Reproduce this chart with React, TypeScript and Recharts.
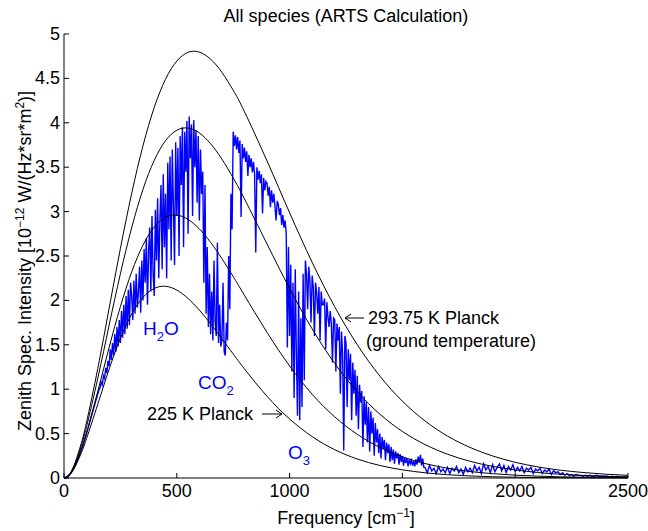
import React from 'react';
import { LineChart, Line, XAxis, YAxis } from 'recharts';

const FONT = '"Liberation Sans", Arial, Helvetica, sans-serif';
const BLUE = '#0000ff';

// x ticks / y ticks
const X_TICKS = [0, 500, 1000, 1500, 2000, 2500];
const Y_TICKS = [0, 0.5, 1, 1.5, 2, 2.5, 3, 3.5, 4, 4.5, 5];

// Planck curves, 1e-12 W/(Hz sr m2)
const planckFreq = [0, 25, 50, 75, 100, 150, 200, 250, 300, 350, 400, 450, 500, 550, 600, 650, 700, 750, 800,
  900, 1000, 1100, 1200, 1300, 1400, 1500, 1600, 1700, 1800, 1900, 2000, 2100, 2200, 2300, 2400, 2500];
const planck294 = [0, 0.048, 0.179, 0.378, 0.629, 1.236, 1.911, 2.584, 3.205, 3.741, 4.173, 4.491, 4.695, 4.794, 4.796,
  4.716, 4.568, 4.367, 4.125, 3.57, 2.987, 2.429, 1.928, 1.501, 1.148, 0.865, 0.643, 0.472, 0.344, 0.248, 0.177,
  0.125, 0.088, 0.062, 0.043, 0.03];
const planck275 = [0, 0.044, 0.166, 0.349, 0.578, 1.125, 1.72, 2.3, 2.819, 3.25, 3.577, 3.798, 3.916, 3.941, 3.886,
  3.764, 3.591, 3.379, 3.143, 2.635, 2.134, 1.679, 1.29, 0.972, 0.719, 0.524, 0.377, 0.268, 0.188, 0.131, 0.091,
  0.062, 0.042, 0.029, 0.019, 0.013];
const planck250 = [0, 0.04, 0.149, 0.311, 0.511, 0.978, 1.47, 1.93, 2.321, 2.622, 2.827, 2.937, 2.961, 2.912, 2.805,
  2.653, 2.47, 2.268, 2.057, 1.64, 1.262, 0.943, 0.688, 0.492, 0.345, 0.239, 0.163, 0.11, 0.073, 0.049, 0.032,
  0.021, 0.013, 0.009, 0.006, 0.004];
const planck225 = [0, 0.036, 0.132, 0.272, 0.444, 0.833, 1.226, 1.573, 1.846, 2.034, 2.135, 2.159, 2.116, 2.022, 1.891,
  1.736, 1.568, 1.397, 1.228, 0.92, 0.665, 0.466, 0.319, 0.214, 0.141, 0.092, 0.059, 0.037, 0.023, 0.014, 0.009,
  0.005, 0.003, 0.002, 0.001, 0.001];

// ARTS spectrum, three pieces with different sampling
const specLowStart = 0;   // step 10
const specLow = [0, 0.003, 0.02, 0.05, 0.09, 0.14, 0.2, 0.27, 0.34, 0.42,
  0.5, 0.59, 0.68, 0.77, 0.86];
const specMidStart = 150; // step 5
const specMid = [
  0.95, 0.99, 1.02, 1.08, 1.05, 1.15, 1.12, 1.24, 1.18, 1.32,
  1.26, 1.45, 1.33, 1.52, 1.38, 1.62, 1.42, 1.7, 1.48, 1.78,
  1.52, 1.88, 1.58, 1.95, 1.62, 2.05, 1.68, 2.12, 1.72, 2.2,
  2.05, 1.78, 2.22, 1.85, 2.3, 1.92, 2.1, 2.38, 1.86, 2.45,
  2.0, 2.58, 2.2, 2.7, 1.95, 2.55, 2.82, 2.1, 2.95, 2.3,
  2.05, 3.02, 2.45, 3.15, 2.25, 2.9, 3.3, 2.35, 3.42, 2.6,
  3.2, 2.25, 3.55, 2.8, 3.62, 2.45, 3.7, 3.05, 2.4, 3.78,
  2.95, 3.72, 2.5, 3.85, 3.3, 3.95, 2.6, 3.9, 3.45, 4.02,
  2.75, 4.07, 3.6, 3.98, 2.95, 4.03, 3.5, 3.92, 3.1, 3.85,
  2.9, 3.7, 3.2, 3.45, 2.2, 3.3, 1.85, 2.6, 1.7, 2.3,
  1.62, 2.1, 1.55, 2.45, 1.75, 1.6, 2.65, 1.52, 1.95, 1.48,
  1.55, 2.2, 1.42, 1.38, 1.75, 1.55, 2.5, 1.9, 3.2, 2.8,
  3.9, 3.74, 3.86, 3.7, 3.84, 3.66, 3.8, 2.94, 3.76, 3.6,
  3.72, 3.56, 3.68, 3.4, 3.64, 3.5, 3.6, 3.44, 3.56, 3.42,
  2.54, 3.5, 3.36, 3.46, 3.32, 3.42, 2.98, 3.38, 3.24, 3.34,
  3.32, 3.18, 3.28, 3.05, 3.24, 3.1, 3.2, 3.06, 2.9, 3.12,
  3.08, 2.96, 3.04, 2.85, 2.96, 2.82, 2.9, 2.75, 1.47, 2.6,
  1.6, 2.4, 1.2, 2.2, 0.9, 2.35, 1.4, 0.7, 2.1, 0.65,
  1.8, 0.8, 2.3, 1.1, 2.45, 2.3, 1.9, 2.38, 2.22, 1.75,
  2.28, 2.15, 1.6, 2.2, 2.08, 1.85, 2.15, 1.55, 2.1, 1.95,
  1.95, 2.02, 1.45, 1.98, 1.82, 1.7, 1.88, 1.74, 1.3, 1.8,
  1.78, 1.2, 1.74, 1.55, 1.7, 0.95, 1.65, 1.4, 0.31, 1.6,
  1.52, 0.8, 1.45, 1.1, 1.4, 0.65, 1.3, 0.95, 1.22, 0.7,
  1.15, 0.55, 1.05, 0.85, 0.98, 0.35, 0.92, 0.6, 0.86, 0.4,
  0.8, 0.3, 0.75, 0.5, 0.68, 0.25, 0.62, 0.4, 0.55, 0.28,
  0.5, 0.22, 0.46, 0.33, 0.43, 0.2, 0.4, 0.28, 0.38, 0.18,
  0.35, 0.2, 0.32, 0.16, 0.3, 0.22, 0.28, 0.15, 0.27, 0.18,
  0.25, 0.14, 0.23, 0.17, 0.22, 0.13, 0.21, 0.16, 0.2, 0.14,
  0.19, 0.13, 0.21, 0.15, 0.24, 0.18, 0.26, 0.14, 0.22, 0.12];
const specHighStart = 1600; // step 10
const specHigh = [
  0.12, 0.06, 0.14, 0.08, 0.11, 0.05, 0.13, 0.07, 0.1, 0.06,
  0.12, 0.05, 0.11, 0.08, 0.13, 0.06, 0.1, 0.04, 0.12, 0.07,
  0.11, 0.06, 0.14, 0.08, 0.12, 0.05, 0.16, 0.09, 0.13, 0.06,
  0.15, 0.07, 0.12, 0.16, 0.08, 0.14, 0.06, 0.13, 0.09, 0.15,
  0.07, 0.12, 0.08, 0.13, 0.06, 0.11, 0.09, 0.12, 0.05, 0.1,
  0.08, 0.11, 0.05, 0.09, 0.07, 0.1, 0.04, 0.08, 0.06, 0.07,
  0.04, 0.06, 0.03, 0.05, 0.03, 0.04, 0.02, 0.04, 0.03, 0.03,
  0.02, 0.03, 0.02, 0.03, 0.02, 0.02, 0.03, 0.02, 0.02, 0.02,
  0.02, 0.02, 0.01, 0.02, 0.01, 0.02, 0.01, 0.01, 0.01, 0.01, 0.01];

const planckData = planckFreq.map((f, i) => ({
  f, t294: planck294[i], t275: planck275[i], t250: planck250[i], t225: planck225[i],
}));

const spectrumData = [
  ...specLow.map((v, i) => ({ f: specLowStart + i * 10, v })),
  ...specMid.map((v, i) => ({ f: specMidStart + i * 5, v })),
  ...specHigh.map((v, i) => ({ f: specHighStart + i * 10, v })),
];

const TICK_LEN = 5;
const fontSize = 18;

const BottomTick = ({ x, y, payload }: any) => (
  <g>
    <line x1={x} y1={y} x2={x} y2={y - TICK_LEN} stroke="#000" />
    <text x={x} y={y + 19} textAnchor="middle" fontFamily={FONT} fontSize={fontSize} fill="#000">
      {payload.value}
    </text>
  </g>
);

const TopTick = ({ x, y }: any) => (
  <line x1={x} y1={y} x2={x} y2={y + TICK_LEN} stroke="#000" />
);

const LeftTick = ({ x, y, payload }: any) => (
  <g>
    <line x1={x} y1={y} x2={x + TICK_LEN} y2={y} stroke="#000" />
    <text x={x - 4} y={y + 6} textAnchor="end" fontFamily={FONT} fontSize={fontSize} fill="#000">
      {payload.value}
    </text>
  </g>
);

const RightTick = ({ x, y }: any) => (
  <line x1={x} y1={y} x2={x - TICK_LEN} y2={y} stroke="#000" />
);

// thin open arrow, pointing right when dir = 1
const Arrow = ({ x1, x2, y }: { x1: number; x2: number; y: number }) => {
  const d = x2 > x1 ? 1 : -1;
  return (
    <g stroke="#000" strokeWidth={1} fill="none">
      <line x1={x1} y1={y} x2={x2} y2={y} />
      <path d={`M${x2 - d * 6},${y - 4} L${x2},${y} L${x2 - d * 6},${y + 4}`} />
    </g>
  );
};

export default function App() {
  return (
    <div style={{ position: 'absolute', left: 0, top: 0, width: 648, height: 531, background: '#fff' }}>
      <LineChart width={648} height={531} data={planckData} margin={{ top: 34, right: 20, bottom: 0, left: 0 }}>
        <XAxis xAxisId="bottom" type="number" dataKey="f" domain={[0, 2500]} ticks={X_TICKS}
          height={53} tickSize={0} tickMargin={0} tick={<BottomTick />} axisLine={{ stroke: '#000' }} />
        <XAxis xAxisId="top" orientation="top" type="number" dataKey="f" domain={[0, 2500]} ticks={X_TICKS}
          height={0} tickSize={0} tickMargin={0} tick={<TopTick />} axisLine={{ stroke: '#000' }} />
        <YAxis yAxisId="left" type="number" domain={[0, 5]} ticks={Y_TICKS} width={64}
          tickSize={0} tickMargin={0} tick={<LeftTick />} axisLine={{ stroke: '#000' }} />
        <YAxis yAxisId="right" orientation="right" type="number" domain={[0, 5]} ticks={Y_TICKS} width={0}
          tickSize={0} tickMargin={0} tick={<RightTick />} axisLine={{ stroke: '#000' }} />

        <Line xAxisId="bottom" yAxisId="left" data={spectrumData} dataKey="v" type="linear"
          stroke={BLUE} strokeWidth={1.4} dot={false} isAnimationActive={false} />
        <Line xAxisId="bottom" yAxisId="left" dataKey="t294" type="natural"
          stroke="#000" strokeWidth={1} dot={false} isAnimationActive={false} />
        <Line xAxisId="bottom" yAxisId="left" dataKey="t275" type="natural"
          stroke="#000" strokeWidth={1} dot={false} isAnimationActive={false} />
        <Line xAxisId="bottom" yAxisId="left" dataKey="t250" type="natural"
          stroke="#000" strokeWidth={1} dot={false} isAnimationActive={false} />
        <Line xAxisId="bottom" yAxisId="left" dataKey="t225" type="natural"
          stroke="#000" strokeWidth={1} dot={false} isAnimationActive={false} />
      </LineChart>

      <svg width={648} height={531} style={{ position: 'absolute', left: 0, top: 0, pointerEvents: 'none' }}
        fontFamily={FONT}>
        <text x={346} y={22} textAnchor="middle" fontSize={18}>All species (ARTS Calculation)</text>
        <text x={346} y={524} textAnchor="middle" fontSize={18}>
          Frequency [cm<tspan dy={-7} fontSize={12}>−1</tspan><tspan dy={7}>]</tspan>
        </text>
        <text x={31} y={261} textAnchor="middle" fontSize={18} transform="rotate(-90 31 261)">
          Zenith Spec. Intensity [10<tspan dy={-7} fontSize={12}>−12</tspan>
          <tspan dy={7}> W/(Hz*sr*m</tspan><tspan dy={-7} fontSize={12}>2</tspan><tspan dy={7}>)]</tspan>
        </text>

        <text x={143} y={335} fontSize={19} fill={BLUE}>
          H<tspan dy={6} fontSize={13}>2</tspan><tspan dy={-6}>O</tspan>
        </text>
        <text x={198} y={389} fontSize={19} fill={BLUE}>
          CO<tspan dy={6} fontSize={13}>2</tspan>
        </text>
        <text x={288} y={459} fontSize={19} fill={BLUE}>
          O<tspan dy={6} fontSize={13}>3</tspan>
        </text>

        <text x={147} y={420} fontSize={18}>225 K Planck</text>
        <Arrow x1={262} x2={282} y={414} />
        <Arrow x1={364} x2={345} y={318} />
        <text x={368} y={324} fontSize={18}>293.75 K Planck</text>
        <text x={366} y={347} fontSize={18}>(ground temperature)</text>
      </svg>
    </div>
  );
}
